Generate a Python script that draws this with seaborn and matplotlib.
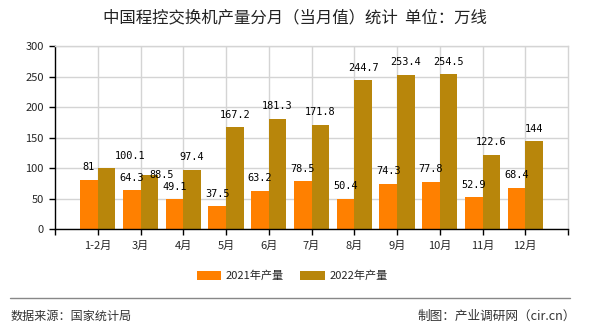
import matplotlib
matplotlib.use("Agg")
import matplotlib.pyplot as plt
import seaborn as sns
import pandas as pd
from matplotlib.lines import Line2D

months = ["1-2月", "3月", "4月", "5月", "6月", "7月", "8月", "9月", "10月", "11月", "12月"]
v2021 = [81, 64.3, 49.1, 37.5, 63.2, 78.5, 50.4, 74.3, 77.8, 52.9, 68.4]
v2022 = [100.1, 88.5, 97.4, 167.2, 181.3, 171.8, 244.7, 253.4, 254.5, 122.6, 144]
series = ["2021年产量", "2022年产量"]
label2021 = ["81", "64.3", "49.1", "37.5", "63.2", "78.5", "50.4", "74.3", "77.8", "52.9", "68.4"]
label2022 = ["100.1", "88.5", "97.4", "167.2", "181.3", "171.8", "244.7", "253.4", "254.5", "122.6", "144"]
colors = ["#FF8000", "#B8860B"]

df = pd.DataFrame({
    "month": months * 2,
    "value": v2021 + v2022,
    "series": [series[0]] * len(months) + [series[1]] * len(months),
})

sns.set_theme(style="white")
plt.rcParams["font.family"] = ["Noto Sans CJK SC", "DejaVu Sans"]

DPI = 100
PX = 72.0 / DPI  # points per pixel

fig = plt.figure(figsize=(5.9, 3.3), dpi=DPI)
ax = fig.add_axes([55 / 590, 1 - 229.3 / 330, (568 - 55) / 590, (229.3 - 46.3) / 330])

sns.barplot(data=df, x="month", y="value", hue="series", palette=colors,
            width=0.82, saturation=1, ax=ax, legend=True, linewidth=0, edgecolor="none")

ax.set_xlim(-1, 11)
ax.set_ylim(0, 300)
ax.set_yticks(range(0, 301, 50))
ax.set_xlabel("")
ax.set_ylabel("")

# grid
ax.set_axisbelow(True)
ax.yaxis.grid(True, color="#d4d4d4", linewidth=1)
ax.xaxis.grid(True, color="#d4d4d4", linewidth=1)
for s in ["top", "right"]:
    ax.spines[s].set_visible(True)
    ax.spines[s].set_color("#d4d4d4")
    ax.spines[s].set_linewidth(1)
for s in ["left", "bottom"]:
    ax.spines[s].set_color("black")
    ax.spines[s].set_linewidth(1)

ax.tick_params(axis="both", which="major", labelsize=8, length=4.5, width=1,
               color="black", direction="out", bottom=True, left=True)
ax.set_xticks([-1, 11], minor=True)
ax.tick_params(axis="x", which="minor", length=4.5, width=1, color="black", bottom=True)

# value labels (offsets in pixels)
offsets = {(1, 0): (24, 0), (1, 1): (12.5, -12.5)}
for si, (cont, labs) in enumerate(zip(ax.containers, [label2021, label2022])):
    for i, (bar, lab) in enumerate(zip(cont, labs)):
        dx, dy = offsets.get((si, i), (0, 0))
        x = bar.get_x() + bar.get_width() / 2
        y = bar.get_height()
        ax.annotate(lab, (x, y), xytext=(dx * PX, (12.5 + dy) * PX), textcoords="offset points",
                    ha="center", va="center", fontsize=7.4, color="black",
                    family=["DejaVu Sans Mono", "Noto Sans CJK SC"])

# legend
handles, labels = ax.get_legend_handles_labels()
ax.legend_.remove()
fig.legend(handles, labels, loc="center", bbox_to_anchor=(292 / 590, 1 - 276 / 330),
           ncol=2, frameon=False, fontsize=8, handlelength=2.2, handleheight=0.9,
           columnspacing=1.5, handletextpad=0.4)

fig.text(294.5 / 590, 1 - 18 / 330, "中国程控交换机产量分月（当月值）统计  单位：万线",
         ha="center", va="center", fontsize=11.8, color="#222222")

fig.add_artist(Line2D([10 / 590, 570 / 590], [1 - 298 / 330, 1 - 298 / 330],
                      color="#888888", linewidth=1))
fig.text(11 / 590, 1 - 316.5 / 330, "数据来源：国家统计局", ha="left", va="center",
         fontsize=8.7, color="#333333")
fig.text(576 / 590, 1 - 316.5 / 330, "制图：产业调研网（cir.cn）", ha="right", va="center",
         fontsize=9.1, color="#333333")

fig.savefig("out.png", dpi=DPI)
